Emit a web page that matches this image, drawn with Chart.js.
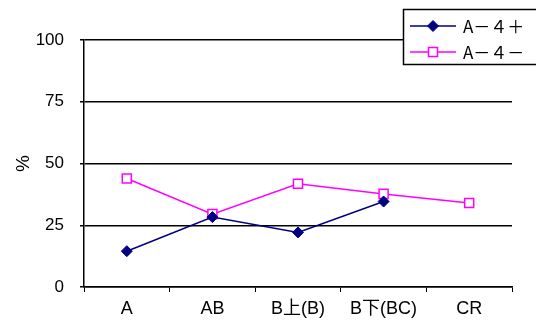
<!DOCTYPE html>
<html>
<head>
<meta charset="utf-8">
<script src="https://cdn.jsdelivr.net/npm/chart.js@4/dist/chart.umd.min.js"></script>
<style>
  html, body { margin: 0; padding: 0; background: #fff; }
  canvas { display: block; }
</style>
</head>
<body>
<canvas id="c" width="536" height="326"></canvas>
<script>
// Categories and series
const categories = ['A', 'AB', 'B上(B)', 'B下(BC)', 'CR'];
const seriesPlus = [14.5, 28.3, 22.1, 34.6, null];
const seriesMinus = [43.9, 29.5, 41.8, 37.7, 34.0];
const seriesNames = ['A－４＋', 'A－４－'];
const yTicks = [0, 25, 50, 75, 100];

const tickFont = { family: '"Liberation Sans", "Noto Sans CJK JP", sans-serif', size: 17 };
const catFont = { family: '"Liberation Sans", "Noto Sans CJK JP", sans-serif', size: 18 };

// Marker shape matching the dataset's point style
function drawMarker(ctx, ds, x, y) {
  const r = ds.pointRadius;
  ctx.beginPath();
  if (ds.pointStyle === 'rectRot') {
    ctx.moveTo(x - r, y);
    ctx.lineTo(x, y - r);
    ctx.lineTo(x + r, y);
    ctx.lineTo(x, y + r);
    ctx.closePath();
  } else {
    const s = Math.SQRT1_2 * r;
    ctx.rect(x - s, y - s, 2 * s, 2 * s);
  }
  ctx.fillStyle = ds.pointBackgroundColor;
  ctx.fill();
  ctx.strokeStyle = ds.pointBorderColor;
  ctx.lineWidth = ds.pointBorderWidth;
  ctx.stroke();
}

// Boxed legend in the upper-right corner, overlapping the plot frame
const boxLegend = {
  id: 'boxLegend',
  afterDraw(chart) {
    const ctx = chart.ctx;
    ctx.save();
    ctx.fillStyle = '#fff';
    ctx.strokeStyle = '#000';
    ctx.lineWidth = 1.5;
    ctx.fillRect(403, 9, 140, 55);
    ctx.strokeRect(403.5, 9.5, 140, 55);
    chart.data.datasets.forEach((ds, i) => {
      const y = 26 + i * 26;
      ctx.strokeStyle = ds.borderColor;
      ctx.lineWidth = ds.borderWidth;
      ctx.beginPath();
      ctx.moveTo(410, y);
      ctx.lineTo(456, y);
      ctx.stroke();
      drawMarker(ctx, ds, 433, y);
      ctx.fillStyle = '#000';
      ctx.font = '17px "Noto Sans CJK JP", sans-serif';
      ctx.textBaseline = 'middle';
      ctx.textAlign = 'left';
      ctx.fillText(ds.label, 463, y + 1);
    });
    ctx.restore();
  }
};

new Chart(document.getElementById('c'), {
  type: 'line',
  data: {
    labels: categories,
    datasets: [
      {
        label: seriesNames[0],
        data: seriesPlus,
        borderColor: '#000080',
        borderWidth: 1.5,
        pointStyle: 'rectRot',
        pointRadius: 5.5,
        pointBackgroundColor: '#000080',
        pointBorderColor: '#000080',
        pointBorderWidth: 1,
        tension: 0,
        spanGaps: false
      },
      {
        label: seriesNames[1],
        data: seriesMinus,
        borderColor: '#ff00ff',
        borderWidth: 1.5,
        pointStyle: 'rect',
        pointRadius: 6.4,
        pointBackgroundColor: '#fff',
        pointBorderColor: '#ff00ff',
        pointBorderWidth: 1.5,
        tension: 0
      }
    ]
  },
  options: {
    responsive: false,
    animation: false,
    layout: { padding: { top: 40, right: 24, bottom: 0, left: 0 } },
    plugins: { legend: { display: false }, tooltip: { enabled: false } },
    scales: {
      x: {
        type: 'category',
        offset: true,
        grid: { offset: true, drawOnChartArea: false, color: '#000', lineWidth: 1, tickLength: 5 },
        border: { color: '#000', width: 1.5 },
        ticks: { color: '#000', font: catFont, padding: 6, maxRotation: 0, autoSkip: false },
        afterFit(s) { s.height = 39; }
      },
      y: {
        min: 0,
        max: 100,
        afterBuildTicks(s) { s.ticks = yTicks.map(v => ({ value: v })); },
        grid: { color: '#000', lineWidth: 1.5, tickLength: 4 },
        border: { color: '#000', width: 1.5 },
        ticks: { color: '#000', font: tickFont, padding: 16 },
        title: { display: true, text: '%', color: '#000', font: { family: '"Liberation Sans", sans-serif', size: 19 }, padding: { top: 12, bottom: 0 } },
        afterFit(s) { s.width = 84; }
      }
    }
  },
  plugins: [boxLegend]
});
</script>
</body>
</html>
